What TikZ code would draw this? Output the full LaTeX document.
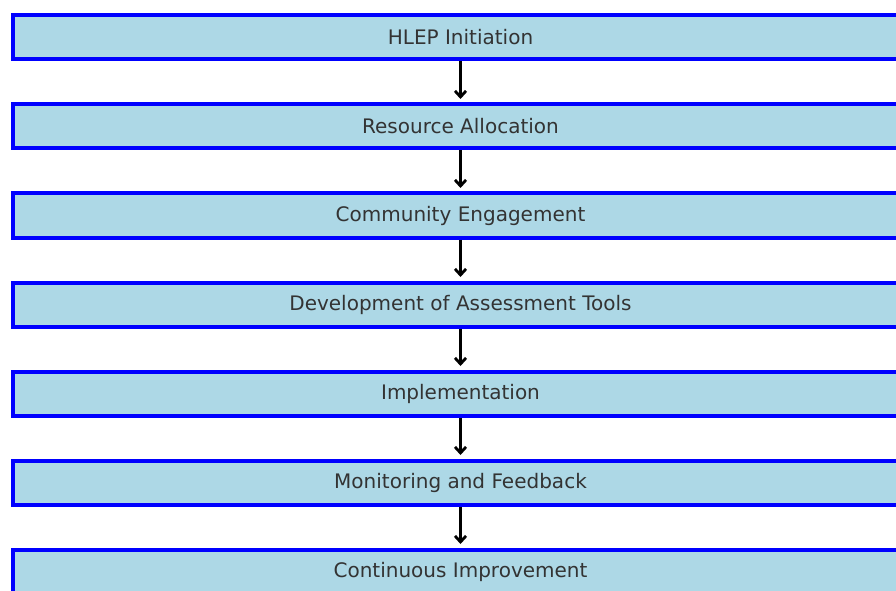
\documentclass[tikz,border=0pt]{standalone}
\usepackage{fontspec}
\setmainfont{DejaVu Sans}
\usetikzlibrary{arrows.meta}
\definecolor{boxfill}{HTML}{ADD8E6}
\definecolor{boxline}{HTML}{0000FF}
\definecolor{boxtext}{HTML}{333333}
\tikzset{
    stagebox/.style={draw=boxline, fill=boxfill, line width=4pt,
        minimum width=895pt, minimum height=44pt, inner sep=0pt,
        text=boxtext, font=\fontsize{20pt}{24pt}\selectfont},
    flowarrow/.style={line width=2.8pt, -{Straight Barb[length=6pt,width=11pt]},
        shorten >=3.5pt}
}

\begin{document}
\begin{tikzpicture}[x=1pt, y=1pt]
    \useasboundingbox (0,0) rectangle (896,590);
    \clip (0,0) rectangle (896,590);
    \fill[white] (0,0) rectangle (896,590);

    \foreach \txt [count=\i] in {HLEP Initiation, Resource Allocation,
        Community Engagement, Development of Assessment Tools,
        Implementation, Monitoring and Feedback, Continuous Improvement} {
        \node[stagebox] (stage\i) at (460.5, 552.5-89*\i+89) {\txt};
    }

    \foreach \i [evaluate=\i as \j using int(\i+1)] in {1,...,6} {
        \draw[flowarrow] (stage\i.south) -- (stage\j.north);
    }
\end{tikzpicture}
\end{document}
